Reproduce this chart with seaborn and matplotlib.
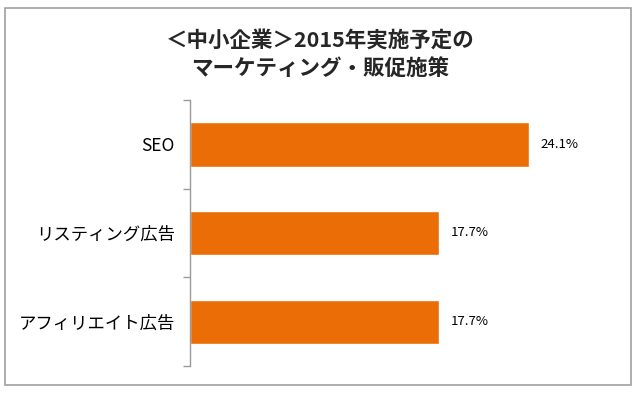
import matplotlib
matplotlib.use("Agg")
import matplotlib.pyplot as plt
import seaborn as sns
import pandas as pd
from matplotlib.patches import Rectangle

categories = ["SEO", "リスティング広告", "アフィリエイト広告"]
values = [24.1, 17.7, 17.7]
value_labels = ["24.1%", "17.7%", "17.7%"]
title = "＜中小企業＞2015年実施予定の\nマーケティング・販促施策"

sns.set_theme(style="white")
plt.rcParams['font.family'] = ['Noto Sans CJK JP', 'DejaVu Sans']

df = pd.DataFrame({"cat": categories, "val": values})

fig = plt.figure(figsize=(6.4, 3.94), dpi=100)
ax = fig.add_axes([190/640, 1-366/394, (620-190)/640, (366-100)/394])

sns.barplot(data=df, y="cat", x="val", orient="h", color="#EB6D06",
            width=0.5, ax=ax, saturation=1)

ax.set_xlim(0, 30.56)
ax.set_ylim(2.5, -0.5)
ax.set_xlabel("")
ax.set_ylabel("")
ax.set_xticks([])
for s in ["top", "right", "bottom"]:
    ax.spines[s].set_visible(False)
ax.spines["left"].set_color("#9a9a9a")
ax.spines["left"].set_linewidth(1.0)
ax.tick_params(axis="y", which="major", length=0, pad=11, labelsize=12.5, labelcolor="black")
ax.set_yticks([-0.5, 0.5, 1.5, 2.5], minor=True)
ax.tick_params(axis="y", which="minor", length=5, width=1, color="#9a9a9a", direction="out", left=True)

for i, (v, lab) in enumerate(zip(values, value_labels)):
    ax.text(v + 0.8, i, lab, va="center", ha="left", fontsize=9.5, color="black")

fig.text(0.5, 1-54.5/394, title, ha="center", va="center", fontsize=15.5,
         fontweight="bold", linespacing=1.45)

fig.patches.append(Rectangle((5/640, 1-385/394), 626/640, 377/394, transform=fig.transFigure,
                             fill=False, edgecolor="#a0a0a0", linewidth=1.2))

fig.savefig("out.png", dpi=100)
